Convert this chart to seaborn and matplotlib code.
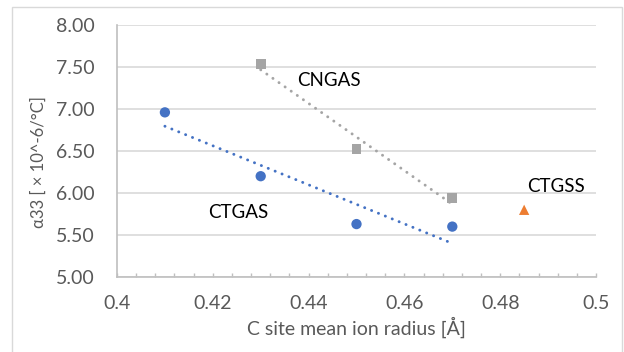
import numpy as np
import pandas as pd
import seaborn as sns
import matplotlib
matplotlib.use("Agg")
import matplotlib.pyplot as plt
from matplotlib.patches import Rectangle
from matplotlib.ticker import MultipleLocator, FormatStrFormatter

# ---- data ----
ctgas_x = [0.41, 0.43, 0.45, 0.47]
ctgas_y = [6.96, 6.20, 5.63, 5.60]
cngas_x = [0.43, 0.45, 0.47]
cngas_y = [7.54, 6.52, 5.94]
ctgss_x = [0.485]
ctgss_y = [5.80]
labels = ["CTGAS", "CNGAS", "CTGSS"]
label_pos_x = [0.4253, 0.4443, 0.4916]
label_pos_y = [5.77, 7.345, 6.08]
x_ticks = [0.4, 0.42, 0.44, 0.46, 0.48, 0.5]
y_ticks = [5.0, 5.5, 6.0, 6.5, 7.0, 7.5, 8.0]

BLUE = "#4472C4"
GRAY = "#A5A5A5"
ORANGE = "#ED7D31"

sns.set_theme(style="white")
plt.rcParams['font.family'] = ['Lato', 'DejaVu Sans']

fig = plt.figure(figsize=(6.24, 3.52), dpi=100)
ax = fig.add_axes([117/624, 1 - 277/352, (596-117)/624, (277-25)/352])

df_a = pd.DataFrame({"x": ctgas_x, "y": ctgas_y})
df_n = pd.DataFrame({"x": cngas_x, "y": cngas_y})
df_s = pd.DataFrame({"x": ctgss_x, "y": ctgss_y})

dot = dict(lw=2.1, linestyle=(0, (0.05, 2.5)), dash_capstyle="round", zorder=2)
sns.regplot(data=df_a, x="x", y="y", ax=ax, scatter=False, ci=None, truncate=True,
            color=BLUE, line_kws=dot)
sns.regplot(data=df_n, x="x", y="y", ax=ax, scatter=False, ci=None, truncate=True,
            color=GRAY, line_kws=dot)

sns.scatterplot(data=df_a, x="x", y="y", ax=ax, color=BLUE, marker="o", s=55,
                edgecolor="none", zorder=3)
sns.scatterplot(data=df_n, x="x", y="y", ax=ax, color=GRAY, marker="s", s=50,
                edgecolor="none", zorder=3)
sns.scatterplot(data=df_s, x="x", y="y", ax=ax, color=ORANGE, marker="^", s=55,
                edgecolor="none", zorder=3)

for t, lx, ly in zip(labels, label_pos_x, label_pos_y):
    ax.text(lx, ly, t, ha="center", va="center", fontsize=13.5, color="black")

ax.set_xlim(0.4, 0.5)
ax.set_ylim(5.0, 8.0)
ax.set_xticks(x_ticks)
ax.set_yticks(y_ticks)
ax.xaxis.set_major_formatter(FormatStrFormatter('%g'))
ax.yaxis.set_major_formatter(FormatStrFormatter('%.2f'))
ax.xaxis.set_minor_locator(MultipleLocator(0.004))
ax.grid(axis="y", color="#D9D9D9", lw=1.2)
ax.set_axisbelow(True)

for s in ["top", "right"]:
    ax.spines[s].set_visible(False)
for s in ["left", "bottom"]:
    ax.spines[s].set_color("#BFBFBF")
    ax.spines[s].set_linewidth(1.2)

ax.tick_params(axis="x", which="both", direction="in", length=3, width=1,
               color="#BFBFBF", bottom=True, labelsize=14, labelcolor="#595959", pad=13)
ax.tick_params(axis="y", which="both", length=0, labelsize=14, labelcolor="#595959", pad=16)

ax.set_xlabel("C site mean ion radius [Å]", fontsize=14, color="#595959", labelpad=3)
ax.set_ylabel("α33 [ × 10^-6/°C]", fontsize=12, color="#595959", va="center")
ax.yaxis.set_label_coords(-0.163, 0.456)

fig.patches.append(Rectangle((12/624, -0.05), (622-12)/624, 0.05 + 1 - 7/352,
                             transform=fig.transFigure, fill=False,
                             edgecolor="#D9D9D9", lw=1.0))

fig.savefig("out.png", dpi=100)
